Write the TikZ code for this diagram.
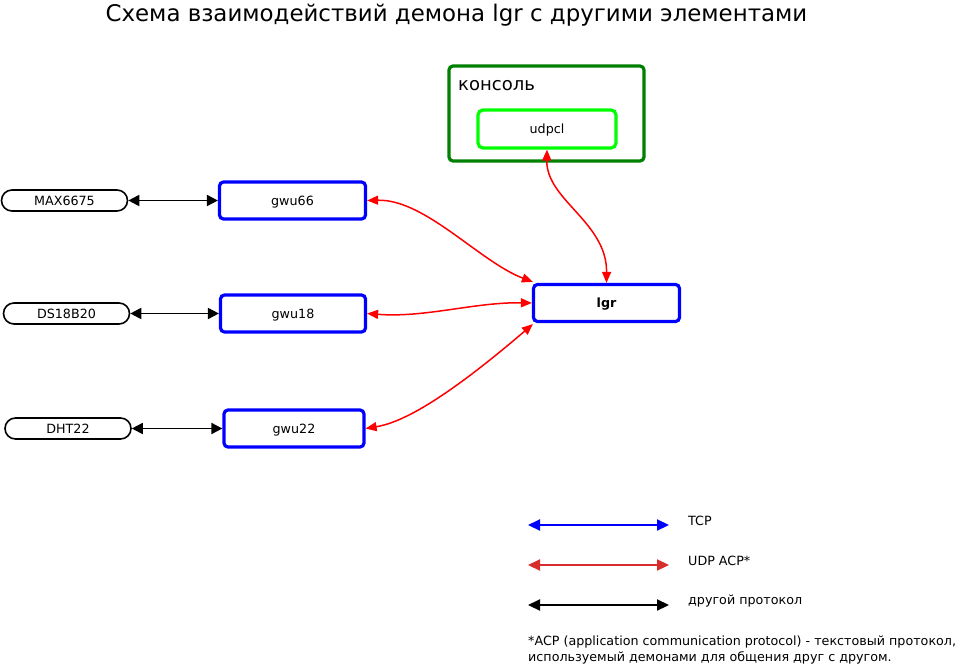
\documentclass[tikz,border=0pt]{standalone}
\usepackage{fontspec}
\setmainfont{DejaVu Sans}
\usetikzlibrary{arrows.meta}
\definecolor{dkgreen}{RGB}{0,128,0}
\definecolor{ltgreen}{RGB}{0,255,0}
\definecolor{legred}{RGB}{215,45,45}
\begin{document}
\begin{tikzpicture}[x=1pt,y=-1pt,
  lbl/.style={font=\fontsize{12.7}{15}\selectfont},
  gw/.style={draw=blue, line width=3.2, rounded corners=4, minimum width=146, minimum height=37, inner sep=0, text height=9.3, text depth=0, lbl},
  sensor/.style={draw, line width=1.6, rounded corners=10.5, minimum width=126, minimum height=21, inner sep=0, text height=9.3, text depth=0, lbl},
  blk/.style={line width=1.8, {Triangle[length=11,width=11]}-{Triangle[length=11,width=11]}},
  redarr/.style={red, line width=1.5, {Triangle[length=11,width=9]}-{Triangle[length=11,width=9]}},
  legarr/.style={line width=2.2, {Triangle[length=12,width=11]}-{Triangle[length=12,width=11]}},
  legtxt/.style={lbl, anchor=base west, inner sep=0}
]
\useasboundingbox (0,0) rectangle (961,666);
\fill[white] (0,0) rectangle (961,666);

\node[anchor=base, inner sep=0, font=\fontsize{22.9}{27}\selectfont] (title) at (456.5,22) {Схема взаимодействий демона lgr с другими элементами};

% console cluster
\node[draw=dkgreen, line width=3.2, rounded corners=4, minimum width=195, minimum height=95, inner sep=0] (cons) at (546.5,113.5) {};
\node[anchor=base west, inner sep=0, font=\fontsize{18}{21}\selectfont] (conslbl) at (458,91) {консоль};
\node[draw=ltgreen, line width=3.2, rounded corners=5, minimum width=138, minimum height=38, inner sep=0, text height=9.3, text depth=0, lbl] (udpcl) at (547,129) {udpcl};

% gateways
\node[gw] (g66) at (292.5,200.5) {gwu66};
\node[gw, minimum width=145] (g18) at (293,313.5) {gwu18};
\node[gw, minimum width=140] (g22) at (294,428.5) {gwu22};
\node[gw, font=\fontsize{12.7}{15}\selectfont\bfseries] (lgr) at (606.5,303) {lgr};

% sensors
\node[sensor] (max) at (64.5,200.5) {MAX6675};
\node[sensor] (ds) at (66.5,313.5) {DS18B20};
\node[sensor] (dht) at (68,428.5) {DHT22};

% black links
\draw[blk] (max.east) -- (g66.west);
\draw[blk] (ds.east) -- (g18.west);
\draw[blk] (dht.east) -- (g22.west);

% red links
\draw[redarr] (g66.east) .. controls (425,199) and (480,262) .. ([xshift=1,yshift=1]lgr.north west);
\draw[redarr] (g18.east) .. controls (425,318) and (475,302) .. (lgr.west);
\draw[redarr] (g22.east) .. controls (405,422) and (450,395) .. ([xshift=1,yshift=-1]lgr.south west);
\draw[redarr] (udpcl.south) .. controls (546,200) and (607,222) .. (lgr.north);

% legend
\coordinate (l1a) at (528,525); \coordinate (l1b) at (669,525);
\coordinate (l2a) at (528,565); \coordinate (l2b) at (669,565);
\coordinate (l3a) at (528,605); \coordinate (l3b) at (669,605);
\draw[legarr, blue] (l1a) -- (l1b);
\draw[legarr, legred] (l2a) -- (l2b);
\draw[legarr, black] (l3a) -- (l3b);
\node[legtxt] (t1) at (688,525.5) {TCP};
\node[legtxt] (t2) at (688,565.5) {UDP ACP*};
\node[legtxt] (t3) at (688,604.5) {другой протокол};

\node[legtxt] (f1) at (528,645) {*ACP (application communication protocol) - текстовый протокол,};
\node[legtxt] (f2) at (528,661) {используемый демонами для общения друг с другом.};
\end{tikzpicture}
\end{document}
